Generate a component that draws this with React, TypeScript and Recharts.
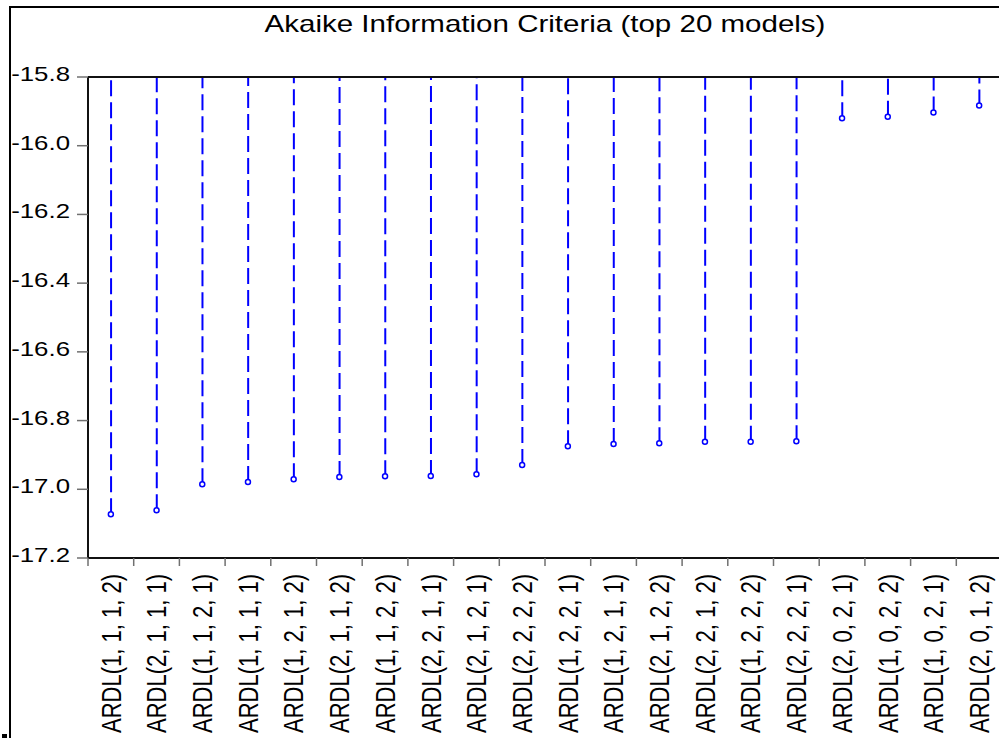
import React from "react";
import { ComposedChart, Bar, Line, XAxis, YAxis, ReferenceLine, Customized } from "recharts";

// ---- data ----
const CATEGORIES = [
  "ARDL(1, 1, 1, 2)",
  "ARDL(2, 1, 1, 1)",
  "ARDL(1, 1, 2, 1)",
  "ARDL(1, 1, 1, 1)",
  "ARDL(1, 2, 1, 2)",
  "ARDL(2, 1, 1, 2)",
  "ARDL(1, 1, 2, 2)",
  "ARDL(2, 2, 1, 1)",
  "ARDL(2, 1, 2, 1)",
  "ARDL(2, 2, 2, 2)",
  "ARDL(1, 2, 2, 1)",
  "ARDL(1, 2, 1, 1)",
  "ARDL(2, 1, 2, 2)",
  "ARDL(2, 2, 1, 2)",
  "ARDL(1, 2, 2, 2)",
  "ARDL(2, 2, 2, 1)",
  "ARDL(2, 0, 2, 1)",
  "ARDL(1, 0, 2, 2)",
  "ARDL(1, 0, 2, 1)",
  "ARDL(2, 0, 1, 2)",
];

const AIC_VALUES = [
  -17.073, -17.061, -16.985, -16.979, -16.971, -16.964, -16.962, -16.961, -16.956, -16.929,
  -16.875, -16.868, -16.866, -16.862, -16.862, -16.86, -15.92, -15.916, -15.903, -15.883,
];

const Y_TICKS = [-15.8, -16.0, -16.2, -16.4, -16.6, -16.8, -17.0, -17.2];
const Y_TOP = -15.8;
const Y_BOTTOM = -17.2;
const TITLE = "Akaike Information Criteria (top 20 models)";

// ---- layout ----
const CHART_W = 1010;
const CHART_H = 738;
const MARGIN = { top: 77, right: 8, bottom: 0, left: 0 };
const Y_AXIS_W = 88;
const X_AXIS_H = 180;
const PLOT_LEFT = MARGIN.left + Y_AXIS_W;
const PLOT_RIGHT = CHART_W - MARGIN.right;
const AXIS_Y = CHART_H - MARGIN.bottom - X_AXIS_H;
const BAND = (PLOT_RIGHT - PLOT_LEFT) / CATEGORIES.length;
const FONT = '"Liberation Sans", Arial, sans-serif';
const SX = 1.23; // horizontal stretch of the reference's text
const BLUE = "#0000FF";

const data = CATEGORIES.map((name, i) => ({
  name,
  aic: AIC_VALUES[i],
  stem: [AIC_VALUES[i], Y_TOP],
}));

const StemShape = (props: any) => {
  const { x, y, width, height } = props;
  if (x == null || y == null) return null;
  const cx = x + width / 2;
  const top = Math.min(y, y + height);
  const bottom = Math.max(y, y + height);
  return (
    <line x1={cx} x2={cx} y1={bottom} y2={top} stroke={BLUE} strokeWidth={2} strokeDasharray="16 6" />
  );
};

const YTick = (props: any) => {
  const { x, y, payload } = props;
  return (
    <g transform={`translate(${x},${y}) scale(${SX},1)`}>
      <text x={0} y={0} dy={4} textAnchor="end" fontFamily={FONT} fontSize={21} fill="#000">
        {Number(payload.value).toFixed(1)}
      </text>
    </g>
  );
};

const XTick = (props: any) => {
  const { x, payload } = props;
  const bx = x - BAND / 2;
  return (
    <g>
      <line x1={bx} x2={bx} y1={AXIS_Y} y2={AXIS_Y + 8} stroke="#707070" strokeWidth={1.5} />
      <g transform={`translate(${x},${AXIS_Y + 16}) scale(${SX},1) rotate(-90)`}>
        <text x={0} y={0} dy={8} textAnchor="end" fontFamily={FONT} fontSize={22} fill="#000">
          {payload.value}
        </text>
      </g>
    </g>
  );
};

const Title = () => (
  <g transform={`translate(${(PLOT_LEFT + PLOT_RIGHT) / 2},32) scale(${SX},1)`}>
    <text x={0} y={0} textAnchor="middle" fontFamily={FONT} fontSize={24} fill="#000">
      {TITLE}
    </text>
  </g>
);

export default function App() {
  return (
    <div
      style={{
        position: "fixed",
        left: 0,
        top: 0,
        width: 999,
        height: 738,
        overflow: "hidden",
        background: "#fff",
      }}
    >
      <div
        style={{
          position: "absolute",
          left: 9,
          top: 6,
          width: 2000,
          height: 2000,
          borderTop: "2px solid #000",
          borderLeft: "2px solid #000",
        }}
      />
      <div style={{ position: "absolute", left: 2, top: 734, width: 5, height: 4, background: "#000" }} />
      <div style={{ position: "absolute", left: 0, top: 0 }}>
        <ComposedChart width={CHART_W} height={CHART_H} data={data} margin={MARGIN}>
          <Customized component={Title} />
          <XAxis
            dataKey="name"
            interval={0}
            height={X_AXIS_H}
            tickLine={false}
            tick={<XTick />}
            axisLine={{ stroke: "#111", strokeWidth: 2 }}
          />
          <YAxis
            type="number"
            domain={[Y_BOTTOM, Y_TOP]}
            ticks={Y_TICKS}
            allowDataOverflow
            width={Y_AXIS_W}
            tickSize={11}
            tickMargin={7}
            tick={<YTick />}
            tickLine={{ stroke: "#707070", strokeWidth: 1.5 }}
            axisLine={{ stroke: "#111", strokeWidth: 2 }}
          />
          <ReferenceLine y={Y_TOP} stroke="#111" strokeWidth={2} ifOverflow="extendDomain" />
          <Bar dataKey="stem" shape={<StemShape />} isAnimationActive={false} />
          <Line
            dataKey="aic"
            stroke="none"
            isAnimationActive={false}
            activeDot={false}
            dot={{ r: 2.5, stroke: BLUE, strokeWidth: 1.5, fill: "#fff" }}
          />
        </ComposedChart>
      </div>
    </div>
  );
}
